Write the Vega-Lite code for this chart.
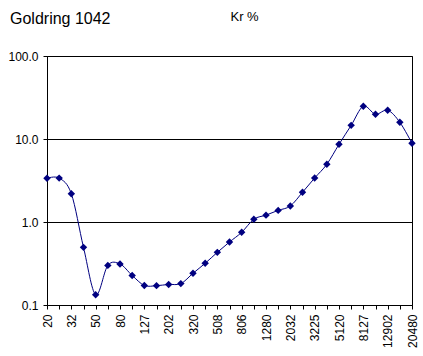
{
  "$schema": "https://vega.github.io/schema/vega-lite/v6.json",
  "width": 365,
  "height": 249,
  "autosize": {"type": "none"},
  "padding": {"left": 47, "top": 56, "right": 11, "bottom": 51},
  "background": "white",
  "config": {
    "font": "Liberation Sans",
    "view": {"stroke": "black", "strokeWidth": 1},
    "axis": {"labelFont": "Liberation Sans", "labelColor": "black", "domainColor": "black", "tickColor": "black", "gridColor": "black", "gridOpacity": 1, "gridWidth": 1, "domainWidth": 1, "tickWidth": 1}
  },
  "title": {
    "text": "Goldring 1042",
    "anchor": "start",
    "frame": "group",
    "dx": -37,
    "dy": 64,
    "offset": 34,
    "baseline": "alphabetic",
    "font": "Liberation Sans",
    "fontSize": 16,
    "fontWeight": "normal",
    "color": "black"
  },
  "data": {
    "values": [
      {"f": "20", "v": 3.36},
      {"f": "25", "v": 3.38},
      {"f": "32", "v": 2.19},
      {"f": "40", "v": 0.495},
      {"f": "50", "v": 0.133},
      {"f": "63", "v": 0.30},
      {"f": "80", "v": 0.312},
      {"f": "100", "v": 0.227},
      {"f": "127", "v": 0.172},
      {"f": "160", "v": 0.171},
      {"f": "202", "v": 0.177},
      {"f": "254", "v": 0.181},
      {"f": "320", "v": 0.241},
      {"f": "403", "v": 0.318},
      {"f": "508", "v": 0.431},
      {"f": "640", "v": 0.574},
      {"f": "806", "v": 0.751},
      {"f": "1016", "v": 1.08},
      {"f": "1280", "v": 1.21},
      {"f": "1613", "v": 1.38},
      {"f": "2032", "v": 1.56},
      {"f": "2560", "v": 2.28},
      {"f": "3225", "v": 3.39},
      {"f": "4064", "v": 4.96},
      {"f": "5120", "v": 8.63},
      {"f": "6451", "v": 14.6},
      {"f": "8127", "v": 24.8},
      {"f": "10240", "v": 19.9},
      {"f": "12902", "v": 22.2},
      {"f": "16255", "v": 15.9},
      {"f": "20480", "v": 8.87}
    ]
  },
  "encoding": {
    "x": {
      "field": "f",
      "type": "ordinal",
      "sort": null,
      "scale": {"type": "point", "padding": 0},
      "axis": {
        "title": null,
        "labelAngle": 270,
        "labelFontSize": 12,
        "labelPadding": 5,
        "tickSize": 4,
        "grid": false,
        "labelOverlap": false,
        "labelExpr": "indexof(['20','32','50','80','127','202','320','508','806','1280','2032','3225','5120','8127','12902','20480'], datum.label) >= 0 ? datum.label : ''"
      }
    },
    "y": {
      "field": "v",
      "type": "quantitative",
      "scale": {"type": "log", "domain": [0.1, 100], "nice": false},
      "axis": {
        "values": [0.1, 1, 10, 100],
        "format": ".1f",
        "grid": true,
        "tickSize": 4,
        "labelPadding": 5,
        "labelFontSize": 12,
        "title": "Kr %",
        "titleAngle": 0,
        "titleAlign": "left",
        "titleBaseline": "alphabetic",
        "titleX": 183,
        "titleY": -36,
        "titleFont": "Liberation Sans",
        "titleFontSize": 13,
        "titleFontWeight": "normal",
        "titleColor": "black"
      }
    }
  },
  "layer": [
    {"mark": {"type": "line", "interpolate": "cardinal", "color": "#000080", "strokeWidth": 1}},
    {"mark": {"type": "point", "shape": "diamond", "filled": true, "color": "#000080", "size": 55, "opacity": 1}}
  ]
}
